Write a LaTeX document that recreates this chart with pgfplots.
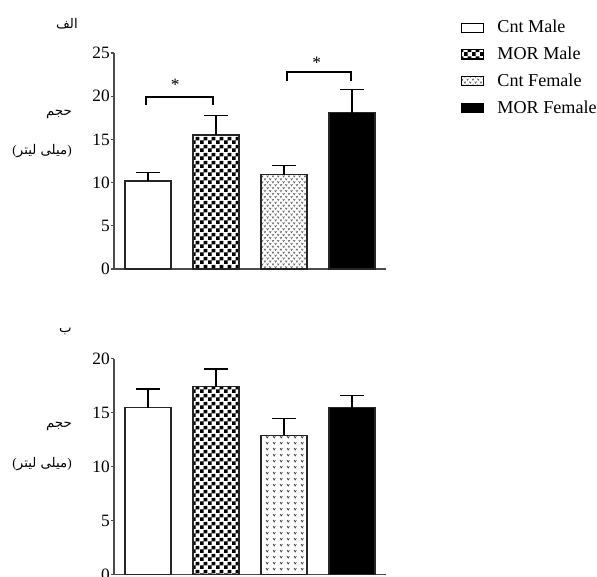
\documentclass[border=0pt]{standalone}
\usepackage{fontspec}
\setmainfont{Liberation Serif}
\newfontfamily\arabicfont[Script=Arabic]{DejaVu Sans}
\TeXXeTstate=1
\usepackage{pgfplots}
\pgfplotsset{compat=1.18}
\usetikzlibrary{patterns}

\pgfdeclarepatternformonly{checker}{\pgfpointorigin}{\pgfpoint{6pt}{6pt}}{\pgfpoint{6pt}{6pt}}{%
  \pgfpathrectangle{\pgfpointorigin}{\pgfpoint{3pt}{3pt}}%
  \pgfpathrectangle{\pgfpoint{3pt}{3pt}}{\pgfpoint{3pt}{3pt}}%
  \pgfusepath{fill}}
\pgfdeclarepatternformonly{veesdense}{\pgfpoint{-0.5pt}{-0.5pt}}{\pgfpoint{4.5pt}{4.9pt}}{\pgfpoint{4pt}{4.4pt}}{%
  \pgfsetlinewidth{0.5pt}%
  \pgfpathmoveto{\pgfpoint{0pt}{1.2pt}}\pgfpathlineto{\pgfpoint{0.7pt}{0pt}}\pgfpathlineto{\pgfpoint{1.4pt}{1.2pt}}%
  \pgfpathmoveto{\pgfpoint{2pt}{3.4pt}}\pgfpathlineto{\pgfpoint{2.7pt}{2.2pt}}\pgfpathlineto{\pgfpoint{3.4pt}{3.4pt}}%
  \pgfusepath{stroke}}
\pgfdeclarepatternformonly{vees}{\pgfpoint{-0.5pt}{-0.5pt}}{\pgfpoint{5.75pt}{5pt}}{\pgfpoint{5.25pt}{4.5pt}}{%
  \pgfsetlinewidth{0.5pt}%
  \pgfpathmoveto{\pgfpoint{0pt}{1.5pt}}\pgfpathlineto{\pgfpoint{0.9pt}{0pt}}\pgfpathlineto{\pgfpoint{1.8pt}{1.5pt}}%
  \pgfusepath{stroke}}

\pgfplotsset{
  barax/.style={
    anchor=south west, scale only axis, width=204pt, height=162pt,
    xmin=-0.5, xmax=3.5, ymin=0,
    axis lines=left, axis line style={-, line width=1pt, draw=black!70},
    xtick=\empty,
    tick align=outside, major tick length=2.5pt,
    tick style={line width=1pt, black!70},
    yticklabel style={font=\fontsize{13}{14}\selectfont, text=black, inner sep=0.5pt},
    /pgf/number format/assume math mode=true,
    ybar, bar width=34.5pt, bar shift=0pt,
    clip=false,
    error bars/y dir=plus, error bars/y explicit,
    error bars/error bar style={line width=1pt, black},
    error bars/error mark options={rotate=90, line width=1pt, black, mark size=9pt},
    every axis plot/.append style={draw=black!85, line width=1pt},
  },
}

\begin{document}
\begin{tikzpicture}
\useasboundingbox (0,0) rectangle (447.75pt,432pt);

% Top panel
\begin{axis}[barax, at={(85.5pt,230.25pt)}, ymax=25, ytick={0,5,10,15,20,25},
  legend image code/.code={\draw[#1, line width=0.8pt, draw=black] (0pt,-3.4pt) rectangle (16.5pt,3.4pt);},
  legend style={draw=none, fill=none, at={(axis description cs:1.275,1.165)}, anchor=north west,
    font=\fontsize{13.6}{15}\selectfont, row sep=5.2pt, column sep=8pt, inner sep=0pt},
  legend cell align=left]
\addplot[fill=white] coordinates {(0,10.2) +- (0,1.0)};
\addlegendentry{Cnt Male}
\addplot[pattern=checker, pattern color=black] coordinates {(1,15.5) +- (0,2.3)};
\addlegendentry{MOR Male}
\addplot[pattern=veesdense, pattern color=black!60] coordinates {(2,10.9) +- (0,1.1)};
\addlegendentry{Cnt Female}
\addplot[fill=black] coordinates {(3,18.1) +- (0,2.7)};
\addlegendentry{MOR Female}
\addplot[sharp plot, forget plot, no marks, black, line width=1.5pt] coordinates {(-0.03,19.0) (-0.03,19.9) (0.96,19.9) (0.96,19.0)};
\addplot[sharp plot, forget plot, no marks, black, line width=1.5pt] coordinates {(2.04,21.8) (2.04,22.8) (2.99,22.8) (2.99,21.8)};
\node[font=\fontsize{13}{14}\selectfont] at (axis cs:0.4,21.3) {*};
\node[font=\fontsize{13}{14}\selectfont] at (axis cs:2.48,23.9) {*};
\end{axis}

% Bottom panel
\begin{axis}[barax, at={(85.5pt,1pt)}, ymax=20, ytick={0,5,10,15,20}]
\addplot[fill=white] coordinates {(0,15.45) +- (0,1.75)};
\addplot[pattern=checker, pattern color=black] coordinates {(1,17.4) +- (0,1.65)};
\addplot[pattern=vees, pattern color=black!80] coordinates {(2,12.9) +- (0,1.55)};
\addplot[fill=black] coordinates {(3,15.45) +- (0,1.15)};
\end{axis}

% Arabic labels
\tikzset{arlab/.style={anchor=east, inner sep=0pt, font=\arabicfont\fontsize{10}{11}\selectfont, text=black}}
\node[arlab] at (58.5pt,414pt) {\beginR الف\endR};
\node[arlab] at (54pt,346.5pt) {\beginR حجم\endR};
\node[arlab] at (54pt,319pt) {{\normalfont(}\beginR میلی لیتر\endR{\normalfont)}};
\node[arlab] at (54pt,183.75pt) {\beginR ب\endR};
\node[arlab] at (54pt,112pt) {\beginR حجم\endR};
\node[arlab] at (54pt,84pt) {{\normalfont(}\beginR میلی لیتر\endR{\normalfont)}};
\end{tikzpicture}
\end{document}
